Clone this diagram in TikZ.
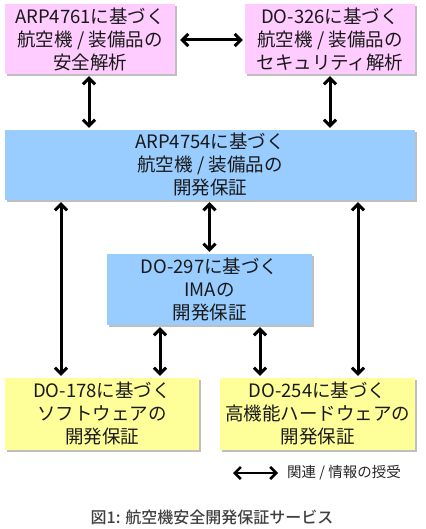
\documentclass[tikz,border=0pt]{standalone}
\usepackage{fontspec}
\setmainfont{Noto Sans CJK JP}[BoldFont={Noto Sans CJK JP Medium}]
\usetikzlibrary{arrows.meta, shadows}
\definecolor{safepink}{HTML}{FFCCFF}
\definecolor{devblue}{HTML}{99CCFF}
\definecolor{swyellow}{HTML}{FFFF99}

\begin{document}
\begin{tikzpicture}[x=1pt, y=-1pt,
  box/.style={minimum width=#1, minimum height=70pt, inner sep=0pt, align=center,
    font=\fontsize{18.5}{23}\selectfont, text=black!90,
    drop shadow={shadow xshift=2pt, shadow yshift=-2pt, fill=black!25, opacity=1}},
  link/.style={line width=3pt, {Straight Barb[length=6pt, width=12pt]}-{Straight Barb[length=6pt, width=12pt]}, shorten <=2pt, shorten >=2pt}]
\useasboundingbox (0,0) rectangle (425,529);
\node[box=170pt, fill=safepink] (a4761) at (90,39) {ARP4761に基づく\\航空機\ /\ 装備品の\\安全解析};
\node[box=170pt, fill=safepink] (d326) at (330,39) {DO-326に基づく\\航空機\ /\ 装備品の\\セキュリティ解析};
\node[box=410pt, fill=devblue] (a4754) at (210,165) {ARP4754に基づく\\航空機\ /\ 装備品の\\開発保証};
\node[box=205pt, fill=devblue, minimum height=71pt] (d297) at (209.5,289.5) {DO-297に基づく\\IMAの\\開発保証};
\node[box=194pt, fill=swyellow, minimum height=72pt] (d178) at (102,414) {DO-178に基づく\\ソフトウェアの\\開発保証};
\node[box=195pt, fill=swyellow, minimum height=72pt] (d254) at (317.5,414) {DO-254に基づく\\高機能ハードウェアの\\開発保証};
\draw[link] (a4761.east |- 0,40) ++(3,0) coordinate (h1) -- (d326.west |- 0,40);
\draw[link] (a4761.south -| 89,0) -- (a4754.north -| 89,0);
\draw[link] (d326.south) -- (a4754.north -| d326.south);
\draw[link] (a4754.south -| 61,0) -- (d178.north -| 61,0);
\draw[link] (a4754.south -| d297.north) -- (d297.north);
\draw[link] (a4754.south -| 358,0) -- (d254.north -| 358,0);
\draw[link] (d297.south -| 160,0) -- (d178.north -| 160,0);
\draw[link] (d297.south -| 260,0) -- (d254.north -| 260,0);
\node[anchor=west, inner sep=0pt, font=\fontsize{14.5}{16}\selectfont, text=black!85] (legend) at (287,473) {関連\ /\ 情報の授受};
\coordinate (key) at (231,473);
\draw[link, line width=2.6pt] (key) -- ([xshift=-7pt]legend.west);
\node[font=\bfseries\fontsize{16}{18}\selectfont, text=black!75] (caption) at (212,517) {図1: 航空機安全開発保証サービス};
\end{tikzpicture}
\end{document}
